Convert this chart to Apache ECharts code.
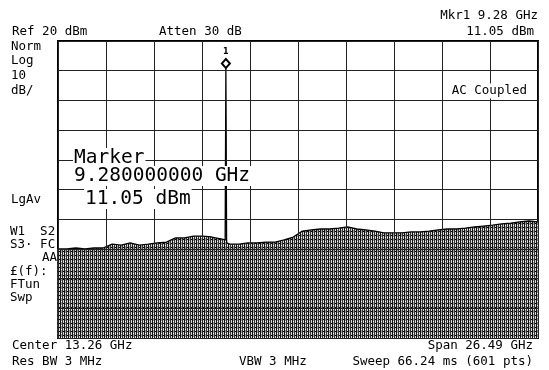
<!DOCTYPE html>
<html>
<head>
<meta charset="utf-8">
<script src="https://cdn.jsdelivr.net/npm/echarts@6/dist/echarts.min.js"></script>
<style>
  html, body { margin: 0; padding: 0; background: #fff; }
  #chart { width: 549px; height: 370px; }
</style>
</head>
<body>
<div id="chart"></div>
<script>
// trace envelope (GHz, dBm)
const freqGHz = [
  0.0, 0.5, 1.0, 1.5, 2.0, 2.5, 3.0, 3.5, 4.0, 4.5, 5.0, 5.5, 6.0, 6.5, 7.0, 7.5, 8.0, 8.5, 9.0, 9.24,
  9.28,
  9.32, 9.5, 10.0, 10.5, 11.0, 11.5, 12.0, 12.5, 13.0, 13.5, 14.0, 14.5, 15.0, 15.5, 16.0, 16.5, 17.0,
  17.5, 18.0, 18.5, 19.0, 19.5, 20.0, 20.5, 21.0, 21.5, 22.0, 22.5, 23.0, 23.5, 24.0, 24.5, 25.0, 25.5,
  26.0, 26.5
];
const levelDbm = [
  -50.0, -50.0, -49.7, -50.0, -49.7, -49.7, -48.4, -48.7, -48.0, -48.7, -48.4, -48.0, -47.7, -46.3, -46.3, -45.7, -45.7, -46.0, -46.6, -47.0,
  11.05,
  -48.0, -48.4, -48.4, -48.0, -48.0, -47.7, -47.7, -47.0, -46.0, -44.0, -43.6, -43.3, -43.3, -43.0, -42.6, -43.3, -43.6,
  -44.0, -44.6, -44.6, -44.6, -44.3, -44.3, -44.0, -43.6, -43.3, -43.3, -43.0, -42.6, -42.3, -42.0, -41.6, -41.3, -40.9,
  -40.6, -40.9
];
const marker = { freq: 9.28, level: 11.05, label: "1" };

const startGHz = 0.015;
const stopGHz = 26.505;
const refLevel = 20;
const bottomLevel = -80;

const headerTexts = [
  { text: "Mkr1 9.28 GHz", x: 538, y: 16, align: "right" },
  { text: "11.05 dBm", x: 534, y: 32, align: "right" },
  { text: "Ref 20 dBm", x: 12, y: 32, align: "left" },
  { text: "Atten 30 dB", x: 159, y: 32, align: "left" }
];
const sideTexts = [
  { text: "Norm", x: 11, y: 47, align: "left" },
  { text: "Log", x: 11, y: 61, align: "left" },
  { text: "10", x: 11, y: 76, align: "left" },
  { text: "dB/", x: 11, y: 91, align: "left" },
  { text: "LgAv", x: 11, y: 200, align: "left" },
  { text: "W1  S2", x: 10, y: 232, align: "left" },
  { text: "S3\u00b7 FC", x: 10, y: 245, align: "left" },
  { text: "AA", x: 57, y: 258, align: "right" },
  { text: "\u00a3(f):", x: 10, y: 272, align: "left" },
  { text: "FTun", x: 10, y: 285, align: "left" },
  { text: "Swp", x: 10, y: 298, align: "left" }
];
const footerTexts = [
  { text: "Center 13.26 GHz", x: 12, y: 346, align: "left" },
  { text: "Res BW 3 MHz", x: 12, y: 362, align: "left" },
  { text: "VBW 3 MHz", x: 239, y: 362, align: "left" },
  { text: "Span 26.49 GHz", x: 533, y: 346, align: "right" },
  { text: "Sweep 66.24 ms (601 pts)", x: 533, y: 362, align: "right" }
];
const markerBox = [
  { text: "Marker", x: 73, y: 158 },
  { text: "9.280000000 GHz", x: 73, y: 176 },
  { text: "11.05 dBm", x: 84, y: 199 }
];

// hatch texture for the noise fill
const hatch = document.createElement("canvas");
hatch.width = 4;
hatch.height = 4;
const hctx = hatch.getContext("2d");
["#111111", "#9a9a9a", "#333333", "#d8d8d8"].forEach((c, i) => {
  hctx.fillStyle = c;
  hctx.fillRect(i, 0, 1, 4);
});
hctx.fillStyle = "#ffffff";
hctx.fillRect(1, 1, 1, 1);
hctx.fillStyle = "#000000";
hctx.fillRect(3, 3, 1, 1);

const FONT = '12.5px "DejaVu Sans Mono", monospace';
const BIG = '19.5px "DejaVu Sans Mono", monospace';

function textItem(t, font, extra) {
  return {
    type: "text",
    z: 100,
    style: Object.assign({
      text: t.text,
      x: t.x,
      y: t.y,
      font: font,
      fill: "#000",
      align: t.align || "left",
      verticalAlign: "middle"
    }, extra || {})
  };
}

const graphics = []
  .concat(headerTexts.map((t) => textItem(t, FONT)))
  .concat(sideTexts.map((t) => textItem(t, FONT)))
  .concat(footerTexts.map((t) => textItem(t, FONT)))
  .concat(markerBox.map((t) => textItem(t, BIG, { backgroundColor: "#fff", padding: [0, 1] })))
  .concat([textItem({ text: "AC Coupled", x: 528, y: 91, align: "right" }, FONT, { backgroundColor: "#fff", padding: [1, 1] })]);

const chart = echarts.init(document.getElementById("chart"), null, { renderer: "canvas" });
chart.setOption({
  animation: false,
  backgroundColor: "#fff",
  grid: {
    left: 58, top: 41, width: 480, height: 297,
    show: true, borderColor: "#000", borderWidth: 2, backgroundColor: "#fff"
  },
  xAxis: [
    {
      type: "value", min: 0, max: 10, interval: 1, z: 5,
      axisLine: { show: false }, axisTick: { show: false }, axisLabel: { show: false },
      splitLine: { show: true, lineStyle: { color: "#222", width: 1 } }
    },
    {
      type: "value", min: startGHz, max: stopGHz, show: false,
      splitLine: { show: false }
    }
  ],
  yAxis: {
    type: "value", min: bottomLevel, max: refLevel, interval: 10, z: 5,
    axisLine: { show: false }, axisTick: { show: false }, axisLabel: { show: false },
    splitLine: { show: true, lineStyle: { color: "#222", width: 1 } }
  },
  series: [
    {
      type: "line",
      xAxisIndex: 1,
      z: 2,
      data: freqGHz.map((f, i) => [f, levelDbm[i]]),
      showSymbol: false,
      lineStyle: { color: "#000", width: 1.3 },
      areaStyle: { origin: "start", color: { image: hatch, repeat: "repeat" }, opacity: 1 },
      markPoint: {
        z: 10,
        symbol: "diamond",
        symbolSize: [8, 9],
        symbolOffset: [0, -4],
        itemStyle: { color: "#fff", borderColor: "#000", borderWidth: 2 },
        label: {
          show: true, position: "top", distance: 2, formatter: marker.label,
          color: "#000", fontSize: 8, fontWeight: "bold", fontFamily: "DejaVu Sans"
        },
        data: [{ coord: [marker.freq, marker.level] }]
      }
    }
  ],
  graphic: graphics
});
</script>
</body>
</html>
